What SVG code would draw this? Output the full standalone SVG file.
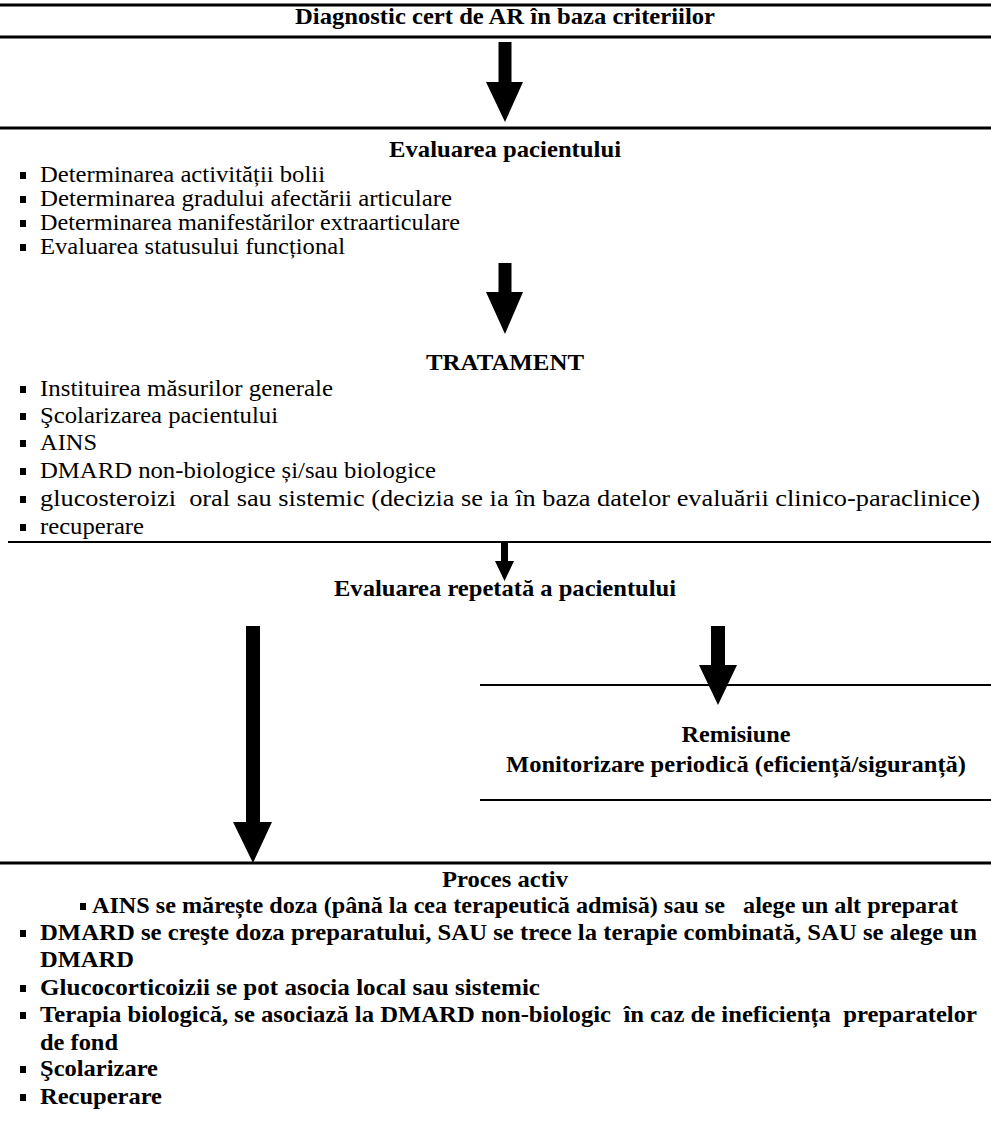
<svg xmlns="http://www.w3.org/2000/svg" width="991" height="1136" viewBox="0 0 991 1136">
<style>
text{font-family:"Liberation Serif","Tinos","Times New Roman",Times,"DejaVu Serif",serif;font-size:23px;fill:#000;white-space:pre}
.b{font-weight:bold}
.c{text-anchor:middle}
.rule{stroke:#000;stroke-width:3;fill:none}
.thin{stroke:#000;stroke-width:2;fill:none}
.blt{fill:#000}
.arr{fill:#000;stroke:none}
</style>
<rect width="991" height="1136" fill="#fff"/>
<g id="n-diagnostic">
<line class="rule" x1="0" y1="5" x2="991" y2="5"/>
<text class="b c" x="505" y="24" textLength="420" lengthAdjust="spacingAndGlyphs">Diagnostic cert de AR în baza criteriilor</text>
<line class="rule" x1="0" y1="37" x2="991" y2="37"/>
</g>
<g id="n-evaluare">
<line class="rule" x1="0" y1="128" x2="991" y2="128"/>
<text class="b c" x="505" y="157" textLength="232" lengthAdjust="spacingAndGlyphs">Evaluarea pacientului</text>
<rect class="blt" x="20" y="172" width="6" height="7"/><text x="40" y="182" textLength="285" lengthAdjust="spacingAndGlyphs">Determinarea activității bolii</text>
<rect class="blt" x="20" y="196" width="6" height="7"/><text x="40" y="206" textLength="412" lengthAdjust="spacingAndGlyphs">Determinarea gradului afectării articulare</text>
<rect class="blt" x="20" y="220" width="6" height="7"/><text x="40" y="230" textLength="420" lengthAdjust="spacingAndGlyphs">Determinarea manifestărilor extraarticulare</text>
<rect class="blt" x="20" y="244" width="6" height="7"/><text x="40" y="254" textLength="305" lengthAdjust="spacingAndGlyphs">Evaluarea statusului funcțional</text>
</g>
<g id="n-tratament">
<text class="b c" x="505" y="370" textLength="158" lengthAdjust="spacingAndGlyphs">TRATAMENT</text>
<rect class="blt" x="20" y="386" width="6" height="7"/><text x="40" y="396" textLength="293" lengthAdjust="spacingAndGlyphs">Instituirea măsurilor generale</text>
<rect class="blt" x="20" y="413" width="6" height="7"/><text x="40" y="423" textLength="238" lengthAdjust="spacingAndGlyphs">Şcolarizarea pacientului</text>
<rect class="blt" x="20" y="440" width="6" height="7"/><text x="40" y="450" textLength="57" lengthAdjust="spacingAndGlyphs">AINS</text>
<rect class="blt" x="20" y="468" width="6" height="7"/><text x="40" y="478" textLength="396" lengthAdjust="spacingAndGlyphs">DMARD non-biologice și/sau biologice</text>
<rect class="blt" x="20" y="496" width="6" height="7"/><text x="40" y="506" textLength="940" lengthAdjust="spacingAndGlyphs">glucosteroizi  oral sau sistemic (decizia se ia în baza datelor evaluării clinico-paraclinice)</text>
<rect class="blt" x="20" y="524" width="6" height="7"/><text x="40" y="534" textLength="104" lengthAdjust="spacingAndGlyphs">recuperare</text>
<line class="thin" x1="8" y1="542" x2="991" y2="542"/>
</g>
<g id="n-reevaluare">
<text class="b c" x="505" y="596" textLength="342" lengthAdjust="spacingAndGlyphs">Evaluarea repetată a pacientului</text>
</g>
<g id="n-remisiune">
<line class="thin" x1="480" y1="685" x2="991" y2="685"/>
<text class="b c" x="736" y="742" textLength="109" lengthAdjust="spacingAndGlyphs">Remisiune</text>
<text class="b c" x="736" y="772" textLength="460" lengthAdjust="spacingAndGlyphs">Monitorizare periodică (eficiență/siguranță)</text>
<line class="thin" x1="480" y1="800" x2="991" y2="800"/>
</g>
<g id="n-proces-activ">
<line class="rule" x1="0" y1="863" x2="991" y2="863"/>
<text class="b c" x="505" y="887" textLength="126" lengthAdjust="spacingAndGlyphs">Proces activ</text>
<rect class="blt" x="80" y="903" width="6" height="7"/><text class="b" x="92" y="913" textLength="866" lengthAdjust="spacingAndGlyphs">AINS se mărește doza (până la cea terapeutică admisă) sau se   alege un alt preparat</text>
<rect class="blt" x="20" y="930" width="6" height="7"/><text class="b" x="40" y="940" textLength="937" lengthAdjust="spacingAndGlyphs">DMARD se creşte doza preparatului, SAU se trece la terapie combinată, SAU se alege un</text>
<text class="b" x="40" y="967" textLength="94" lengthAdjust="spacingAndGlyphs">DMARD</text>
<rect class="blt" x="20" y="985" width="6" height="7"/><text class="b" x="40" y="995" textLength="500" lengthAdjust="spacingAndGlyphs">Glucocorticoizii se pot asocia local sau sistemic</text>
<rect class="blt" x="20" y="1012" width="6" height="7"/><text class="b" x="40" y="1022" textLength="937" lengthAdjust="spacingAndGlyphs">Terapia biologică, se asociază la DMARD non-biologic  în caz de ineficiența  preparatelor</text>
<text class="b" x="40" y="1050" textLength="78" lengthAdjust="spacingAndGlyphs">de fond</text>
<rect class="blt" x="20" y="1066" width="6" height="7"/><text class="b" x="40" y="1076" textLength="118" lengthAdjust="spacingAndGlyphs">Şcolarizare</text>
<rect class="blt" x="20" y="1094" width="6" height="7"/><text class="b" x="40" y="1104" textLength="122" lengthAdjust="spacingAndGlyphs">Recuperare</text>
</g>
<g id="connectors">
<polygon class="arr" points="498.5,42 511.5,42 511.5,82 523,82 505,122 486,82 498.5,82"/>
<polygon class="arr" points="498.5,263 511.5,263 511.5,292 523,292 505,334 486,292 498.5,292"/>
<polygon class="arr" points="501,543 508,543 508,561 514,561 504.5,581 495,561 501,561"/>
<polygon class="arr" points="246,626 260,626 260,822 272,822 253,863 233,822 246,822"/>
<polygon class="arr" points="711,626 725,626 725,665 737,665 718,705 699,665 711,665"/>
</g>
</svg>
